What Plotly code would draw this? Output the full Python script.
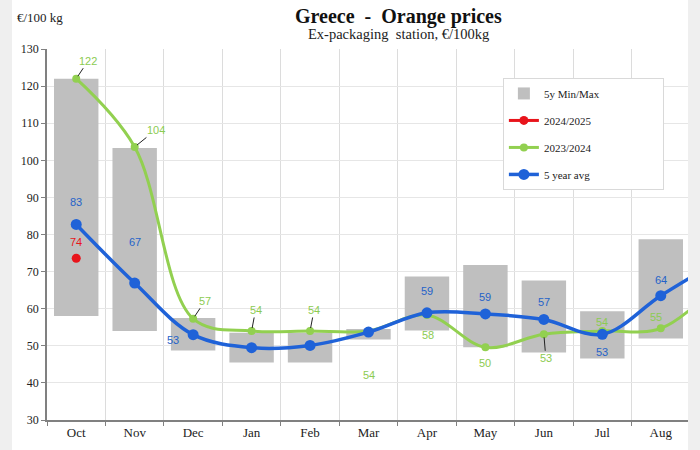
import plotly.graph_objects as go

months = ["Oct", "Nov", "Dec", "Jan", "Feb", "Mar", "Apr", "May", "Jun", "Jul", "Aug", "Sep"]
min_5y = [58.0, 54.0, 48.7, 45.5, 45.5, 51.7, 54.1, 49.6, 48.2, 46.6, 52.0, None]
max_5y = [122.0, 103.3, 57.5, 53.5, 53.5, 54.5, 68.7, 71.8, 67.6, 59.3, 78.7, None]
avg_5y = [82.7, 66.9, 53.0, 49.5, 50.1, 53.7, 58.9, 58.6, 57.1, 53.1, 63.5, 73.0]
s2023_24 = [122.0, 103.6, 57.3, 54.0, 54.0, 54.0, 58.3, 49.6, 53.1, 54.0, 54.7, 67.0]
s2024_25 = [73.6, None, None, None, None, None, None, None, None, None, None, None]
y_ticks = [30, 40, 50, 60, 70, 80, 90, 100, 110, 120, 130]

BLUE = "#1F62D8"
BLUE_T = "#2563C9"
GREEN = "#92D050"
GREEN_T = "#8CCB52"
RED = "#E8141B"
GRAY = "#BFBFBF"

NB = "\u00a0"

fig = go.Figure()

bar_len = [(b - a) if a is not None and b is not None else None for a, b in zip(min_5y, max_5y)]
fig.add_trace(go.Bar(x=months, y=bar_len, base=min_5y, name="5y Min/Max" + NB * 21,
                     marker=dict(color=GRAY, line=dict(width=0)), width=0.76,
                     legendgroup="a", hoverinfo="skip"))
fig.add_trace(go.Scatter(x=months, y=s2024_25, name="2024/2025", mode="lines+markers",
                         line=dict(color=RED, width=3), marker=dict(size=9, color=RED),
                         legendgroup="b"))
fig.add_trace(go.Scatter(x=months, y=s2023_24, name="2023/2024", mode="lines+markers",
                         line=dict(color=GREEN, width=3, shape="spline", smoothing=1.0),
                         marker=dict(size=8, color=GREEN), legendgroup="c"))
fig.add_trace(go.Scatter(x=months, y=avg_5y, name="5 year avg", mode="lines+markers",
                         line=dict(color=BLUE, width=3.5, shape="spline", smoothing=1.0),
                         marker=dict(size=11, color=BLUE), legendgroup="d"))

ann = []
lab_font = "Liberation Sans"

# blue labels: (index, xshift, yshift)
blue_pos = [(0, 0, 22), (1, 0, 41), (2, -20, -5), (6, 0, 22), (7, 0, 17), (8, 0, 17), (9, 0, -18), (10, 0, 16)]
for i, dx, dy in blue_pos:
    ann.append(dict(x=months[i], y=avg_5y[i], text=str(round(avg_5y[i])), showarrow=False,
                    xshift=dx, yshift=dy, font=dict(family=lab_font, size=11, color=BLUE_T)))

# green labels without leader
green_pos = [(5, 0, -44), (6, 1, -20), (7, 0, -16), (9, 0, 9), (10, -5, 11)]
for i, dx, dy in green_pos:
    ann.append(dict(x=months[i], y=s2023_24[i], text=str(round(s2023_24[i])), showarrow=False,
                    xshift=dx, yshift=dy, font=dict(family=lab_font, size=11, color=GREEN_T)))

# green labels with leader lines: (index, ax, ay)
green_lead = [(0, 12, -18), (1, 21, -17), (2, 12, -18), (3, 4, -21), (4, 4, -21), (8, 2, 24)]
for i, ax, ay in green_lead:
    ann.append(dict(x=months[i], y=s2023_24[i], text=str(round(s2023_24[i])), showarrow=True,
                    ax=ax, ay=ay, arrowhead=0, arrowwidth=1, arrowcolor="#222222", standoff=3,
                    font=dict(family=lab_font, size=11, color=GREEN_T)))

ann.append(dict(x=months[0], y=s2024_25[0], text=str(round(s2024_25[0])), showarrow=False,
                yshift=16, font=dict(family=lab_font, size=11, color=RED)))

# titles
ann.append(dict(xref="paper", yref="paper", x=0.546, y=1.0882, yanchor="middle",
                text="<b>Greece  -  Orange prices</b>",
                showarrow=False, font=dict(family="Liberation Serif", size=20, color="#111111")))
ann.append(dict(xref="paper", yref="paper", x=0.546, y=1.0401, yanchor="middle",
                text="Ex-packaging  station, €/100kg",
                showarrow=False, font=dict(family="Liberation Serif", size=14.5, color="#222222")))
ann.append(dict(xref="paper", yref="paper", x=(15 - 47) / 643, y=1.0856, xanchor="left", yanchor="middle",
                text="€/100 kg",
                showarrow=False, font=dict(family="Liberation Serif", size=13, color="#222222")))

fig.update_layout(
    width=700, height=450,
    margin=dict(l=47, r=10, t=49, b=27),
    paper_bgcolor="white", plot_bgcolor="white",
    showlegend=True,
    legend=dict(x=0.709, y=0.922, xanchor="left", yanchor="top",
                bgcolor="white", bordercolor="#D9D9D9", borderwidth=1,
                font=dict(family="Liberation Serif", size=11, color="#222222"),
                tracegroupgap=8, itemwidth=30),
    annotations=ann,
    bargap=0.24,
)
fig.update_xaxes(type="category", categoryorder="array", categoryarray=months,
                 range=[-0.5, 10.5], tickson="boundaries", ticks="outside", ticklen=4,
                 tickcolor="#808080", showline=True, linecolor="#808080", linewidth=1.5,
                 showgrid=True, gridcolor="#DCDCDC", gridwidth=1,
                 tickfont=dict(family="Liberation Serif", size=13, color="#222222"))
fig.update_yaxes(range=[30, 130], tickvals=y_ticks, ticks="outside", ticklen=4,
                 tickcolor="#808080", showline=True, linecolor="#808080", linewidth=1.5,
                 showgrid=True, gridcolor="#E6E6E6", gridwidth=1, zeroline=False,
                 tickfont=dict(family="Liberation Serif", size=12, color="#222222"))

post = (
    "document.body.style.margin='0';"
    "document.body.style.background='#EFEFEF';"
    "var gd=document.getElementById('{plot_id}');"
    "gd.style.clipPath='inset(0px 12px 0px 12px)';"
)
fig.write_html("out.html", post_script=post, config={"displayModeBar": False})
